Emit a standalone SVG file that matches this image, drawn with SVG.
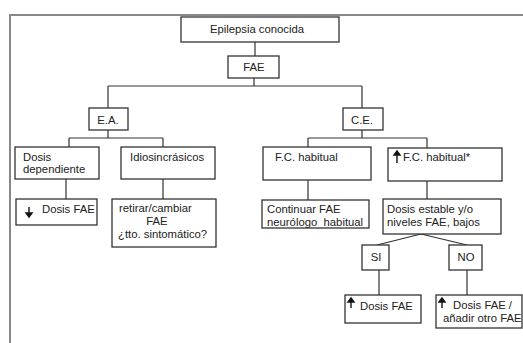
<svg xmlns="http://www.w3.org/2000/svg" width="523" height="343" viewBox="0 0 523 343">
<style>
.b{fill:#fff;stroke:#333;stroke-width:1.3}
.c{fill:none;stroke:#333;stroke-width:1.2}
text{font-family:"Liberation Sans",Arial,sans-serif;font-size:11.3px;fill:#222}
.m{text-anchor:middle}
.ar{fill:#111;stroke:#111;stroke-width:1.4}
</style>
<rect width="523" height="343" fill="#fff"/>
<path d="M10 343 V15 H523" fill="none" stroke="#888" stroke-width="2"/>
<g id="connectors">
<path class="c" d="M255 42 V56"/>
<path class="c" d="M254 78 V86 M108 86 H362 M108 86 V108 M362 86 V108"/>
<path class="c" d="M108 130 V138 M69 138 H163 M69 138 V147 M163 138 V147"/>
<path class="c" d="M362 130 V138 M308 138 H427 M308 138 V147 M427 138 V148"/>
<path class="c" d="M66 179 V199 M163 179 V199"/>
<path class="c" d="M308 180 V200 M427 181 V199"/>
<path class="c" d="M421 234 L377 245 M421 234 L467 245"/>
<path class="c" d="M379 270 V295 M467 270 V295"/>
</g>
<g id="epilepsia"><rect class="b" x="181" y="17" width="158" height="25"/><text class="m" x="257" y="33">Epilepsia conocida</text></g>
<g id="fae"><rect class="b" x="228" y="56" width="51" height="22"/><text class="m" x="254" y="71">FAE</text></g>
<g id="ea"><rect class="b" x="89" y="108" width="39" height="22"/><text class="m" x="108" y="124">E.A.</text></g>
<g id="ce"><rect class="b" x="343" y="108" width="40" height="22"/><text class="m" x="362" y="124">C.E.</text></g>
<g id="dosis-dependiente"><rect class="b" x="15" y="147" width="84" height="32"/><text x="23" y="161">Dosis</text><text x="23" y="173">dependiente</text></g>
<g id="idiosincrasicos"><rect class="b" x="121" y="147" width="94" height="32"/><text x="130" y="161">Idiosincrásicos</text></g>
<g id="bajar-dosis"><rect class="b" x="16" y="199" width="81" height="26"/><path class="ar" d="M29 207 V214"/><path class="ar" d="M26 213 L32 213 L29 217 Z"/><text x="42" y="213">Dosis FAE</text></g>
<g id="retirar"><rect class="b" x="112" y="199" width="104" height="48"/><text x="119" y="212">retirar/cambiar</text><text class="m" x="157" y="225">FAE</text><text x="118" y="238">¿tto. sintomático?</text></g>
<g id="fc-habitual"><rect class="b" x="263" y="147" width="108" height="33"/><text x="275" y="161">F.C. habitual</text></g>
<g id="fc-aumentada"><rect class="b" x="388" y="148" width="114" height="33"/><path class="ar" d="M397 155 V163"/><path class="ar" d="M394 155 L400 155 L397 151 Z"/><text x="403" y="161">F.C. habitual*</text></g>
<g id="continuar"><rect class="b" x="262" y="200" width="107" height="28"/><text x="267" y="213">Continuar FAE</text><text x="267" y="226" xml:space="preserve">neurólogo  habitual</text></g>
<g id="dosis-estable"><rect class="b" x="383" y="199" width="118" height="35"/><text x="387" y="213">Dosis estable y/o</text><text x="387" y="226">niveles FAE, bajos</text></g>
<g id="si"><rect class="b" x="362" y="245" width="27" height="25"/><text class="m" x="376" y="261">SI</text></g>
<g id="no"><rect class="b" x="449" y="245" width="33" height="25"/><text class="m" x="466" y="261">NO</text></g>
<g id="subir-dosis"><rect class="b" x="345" y="295" width="76" height="28"/><path class="ar" d="M351 302 V308"/><path class="ar" d="M348 302 L354 302 L351 298 Z"/><text x="360" y="310">Dosis FAE</text></g>
<g id="subir-anadir"><rect class="b" x="436" y="295" width="86" height="33"/><path class="ar" d="M442 302 V308"/><path class="ar" d="M439 302 L445 302 L442 298 Z"/><text x="453" y="309">Dosis FAE /</text><text x="443" y="322">añadir otro FAE</text></g>
</svg>
